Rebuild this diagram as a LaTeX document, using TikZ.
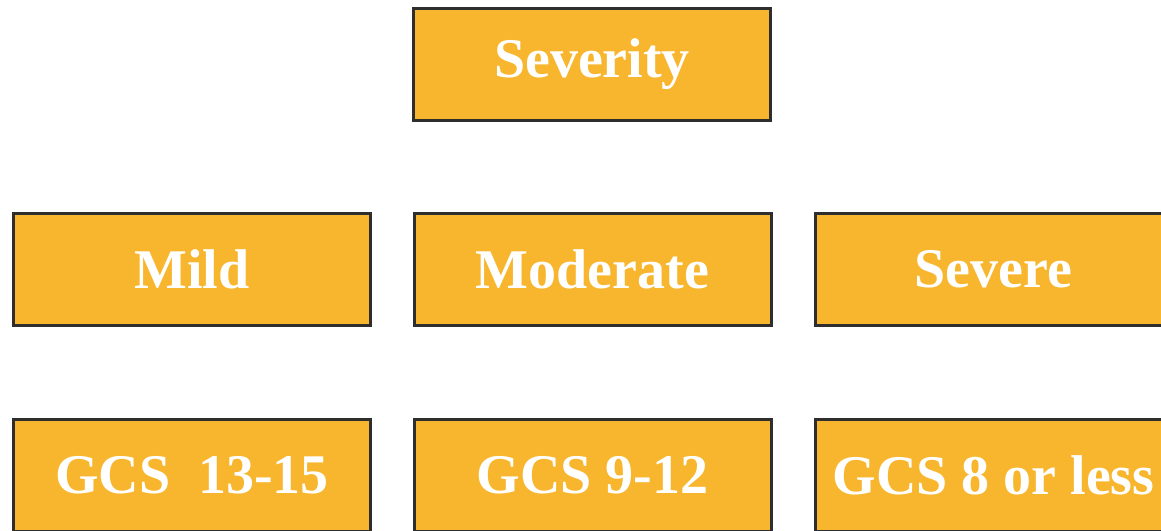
\documentclass[tikz,border=0pt]{standalone}
\usepackage{fontspec}
\setmainfont{Liberation Serif}
\definecolor{boxfill}{HTML}{F8B62E}
\definecolor{boxline}{HTML}{2E2E2E}
\tikzset{
  sevbox/.style={draw=boxline, fill=boxfill, line width=3pt, rectangle,
    minimum width=357pt, minimum height=112pt, inner sep=0pt, outer sep=0pt,
    text=white, font=\fontsize{56}{60}\selectfont\bfseries}
}
\begin{document}
\begin{tikzpicture}[x=1pt,y=-1pt]
\useasboundingbox (0,0) rectangle (1161,530);
\clip (0,0) rectangle (1161,530);
\fill[white] (0,0) rectangle (1161,530);
\node[sevbox] (sev) at (592,64.5) {Severity};
\node[sevbox] (mild) at (192,269.5) {Mild};
\node[sevbox] (mod) at (592.5,269.5) {Moderate};
\node[sevbox] (svr) at (993.5,269.5) {Severe};
\node[sevbox] (g1) at (192,475.5) {GCS\ \ 13-15};
\node[sevbox] (g2) at (592.5,475.5) {GCS 9-12};
\node[sevbox] (g3) at (993.5,475.5) {GCS 8 or less};
\end{tikzpicture}
\end{document}
